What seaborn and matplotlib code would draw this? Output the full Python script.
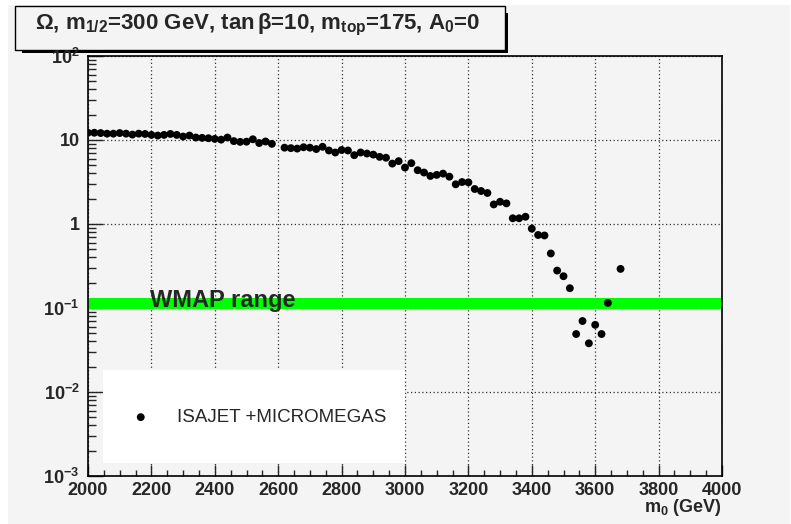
import matplotlib
matplotlib.use("Agg")
import matplotlib.pyplot as plt
import numpy as np
import pandas as pd
import seaborn as sns
from matplotlib.patches import Rectangle
from matplotlib.ticker import FixedLocator, FixedFormatter, MultipleLocator, LogLocator, NullFormatter

# ---------------- data ----------------
m0 = [2000, 2020, 2040, 2060, 2080, 2100, 2120, 2140, 2160, 2180,
      2200, 2220, 2240, 2260, 2280, 2300, 2320, 2340, 2360, 2380,
      2400, 2420, 2440, 2460, 2480, 2500, 2520, 2540, 2560, 2580,
      2620, 2640, 2660, 2680, 2700, 2720, 2740, 2760, 2780, 2800,
      2820, 2840, 2860, 2880, 2900, 2920, 2940, 2960, 2980, 3000,
      3020, 3040, 3060, 3080, 3100, 3120, 3140, 3160, 3180, 3200,
      3220, 3240, 3260, 3280, 3300, 3320, 3340, 3360, 3380, 3400,
      3420, 3440, 3460, 3480, 3500, 3520, 3540, 3560, 3580, 3600,
      3620, 3640, 3680]
omega = [12.2, 12.2, 12.1, 11.9, 11.9, 12.1, 11.9, 11.6, 11.9, 11.8,
         11.5, 11.3, 11.5, 11.8, 11.5, 11.0, 11.3, 10.7, 10.6, 10.5,
         10.3, 10.1, 10.7, 9.7, 9.5, 9.55, 10.2, 9.2, 9.6, 9.0,
         8.1, 8.0, 7.9, 8.2, 8.1, 7.8, 8.3, 7.5, 7.1, 7.6,
         7.5, 6.6, 7.1, 6.9, 6.7, 6.3, 6.15, 5.24, 5.6, 4.7,
         5.3, 4.37, 4.1, 3.73, 3.84, 3.98, 3.66, 2.97, 3.16, 3.13,
         2.61, 2.47, 2.34, 1.71, 1.84, 1.76, 1.17, 1.17, 1.22, 0.88,
         0.74, 0.73, 0.446, 0.279, 0.239, 0.172, 0.049, 0.070, 0.038, 0.063,
         0.049, 0.115, 0.292]
series_label = "ISAJET +MICROMEGAS"
x_ticks = [2000, 2200, 2400, 2600, 2800, 3000, 3200, 3400, 3600, 3800, 4000]
x_tick_labels = ["2000", "2200", "2400", "2600", "2800", "3000", "3200", "3400", "3600", "3800", "4000"]
y_ticks = [1e-3, 1e-2, 1e-1, 1, 10, 100]
y_tick_labels = [r"$10^{-3}$", r"$10^{-2}$", r"$10^{-1}$", "1", "10", r"$10^{2}$"]
wmap_range = [0.097, 0.13]
wmap_label = "WMAP range"
title = r"$\Omega$, m$_{1/2}$=300 GeV, tan$\,\beta$=10, m$_{top}$=175, A$_{0}$=0"
x_label = r"m$_{0}$ (GeV)"

df = pd.DataFrame({"m0": m0, "omega": omega})

# ---------------- style ----------------
sns.set_theme(style="white")
BG = "#f4f4f4"
plt.rcParams["font.family"] = ["Liberation Sans", "DejaVu Sans"]
plt.rcParams["mathtext.fontset"] = "custom"
plt.rcParams["mathtext.rm"] = "Liberation Sans:bold"
plt.rcParams["mathtext.it"] = "Liberation Sans:bold"
plt.rcParams["mathtext.bf"] = "Liberation Sans:bold"
plt.rcParams["mathtext.sf"] = "Liberation Sans:bold"
plt.rcParams["mathtext.default"] = "bf"

W, H = 791, 524
fig = plt.figure(figsize=(W / 100, H / 100), dpi=100)
fig.patch.set_facecolor("white")
fig.add_artist(Rectangle((8 / W, 0), (790 - 8) / W, (H - 5) / H, transform=fig.transFigure,
                         facecolor=BG, edgecolor="none", zorder=-10))

ax = fig.add_axes([88 / W, 1 - 476 / H, 634 / W, 420 / H])
ax.set_facecolor(BG)

sns.scatterplot(data=df, x="m0", y="omega", ax=ax, color="black", s=32,
                edgecolor="none", label=series_label, zorder=4)

ax.set_yscale("log")
ax.set_xlim(2000, 4000)
ax.set_ylim(1e-3, 1e2)

ax.axhspan(wmap_range[0], wmap_range[1], color="#00ff00", lw=0, zorder=2)
ax.text((150 - 88) / 634, (476 - 306.7) / 420, wmap_label, transform=ax.transAxes,
        fontsize=17, fontweight="bold", ha="left", va="baseline", zorder=5)

# ticks
ax.xaxis.set_major_locator(FixedLocator(x_ticks))
ax.xaxis.set_major_formatter(FixedFormatter(x_tick_labels))
ax.xaxis.set_minor_locator(MultipleLocator(50))
ax.yaxis.set_major_locator(FixedLocator(y_ticks))
ax.yaxis.set_major_formatter(FixedFormatter(y_tick_labels))
ax.yaxis.set_minor_locator(LogLocator(base=10, subs=np.arange(2, 10), numticks=20))
ax.yaxis.set_minor_formatter(NullFormatter())

ax.tick_params(axis="x", which="major", direction="in", length=8, width=1, pad=4,
               labelsize=13, bottom=True, top=False)
ax.tick_params(axis="x", which="minor", direction="in", length=4, width=1, bottom=True, top=False)
ax.tick_params(axis="y", which="major", direction="in", length=11, width=1, pad=6,
               labelsize=13, left=True, right=False)
ax.tick_params(axis="y", which="minor", direction="in", length=6, width=1, left=True, right=False)
for lab in ax.get_xticklabels() + ax.get_yticklabels():
    lab.set_fontweight("bold")

ax.grid(True, which="major", color="#333333", linestyle=(0, (1, 2)), linewidth=0.9)
ax.set_axisbelow(True)
for sp in ax.spines.values():
    sp.set_color("black")
    sp.set_linewidth(1.2)
    sp.set_visible(True)

ax.set_xlabel("")
ax.set_ylabel("")

# legend box
ax.add_patch(Rectangle(((103 - 88) / 634, (476 - 463) / 420), (405 - 103) / 634, (463 - 370) / 420,
                       transform=ax.transAxes, facecolor="white", edgecolor="none", zorder=3))
leg = ax.legend(loc="center left", bbox_to_anchor=((122 - 88) / 634, (476 - 417.5) / 420),
                frameon=False, borderpad=0, handlelength=1.0, handletextpad=1.45,
                prop={"family": "Liberation Sans", "size": 13.5, "weight": "normal"})
leg.set_zorder(6)

# x label
fig.text(722 / W, 1 - 512 / H, x_label, ha="right", va="baseline", fontsize=13, fontweight="bold")

# title box with shadow
fig.add_artist(Rectangle((22 / W, 1 - 53 / H), 486 / W, 40 / H, transform=fig.transFigure,
                         facecolor="black", edgecolor="none", zorder=-5))
fig.add_artist(Rectangle((15 / W, 1 - 50 / H), 490 / W, 44 / H, transform=fig.transFigure,
                         facecolor=BG, edgecolor="black", lw=1, zorder=-4))
fig.text(258 / W, 1 - 29 / H, title, ha="center", va="baseline", fontsize=16, fontweight="bold")

fig.savefig("out.png", dpi=100, facecolor=fig.get_facecolor())
